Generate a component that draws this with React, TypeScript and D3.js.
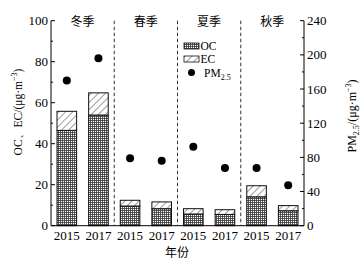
import React from "react";
import * as d3 from "d3";

const seasons = ["冬季", "春季", "夏季", "秋季"];
const years = ["2015", "2017"];
const ocValues = [46.5, 54, 9.6, 8.3, 5.7, 5.5, 14.1, 7.3];
const ecValues = [9.3, 10.8, 2.8, 3.3, 2.6, 2.3, 5.4, 2.5];
const pmValues = [170, 196, 79, 76, 92.5, 67.5, 67.5, 47.5];
const leftTicks = [0, 20, 40, 60, 80, 100];
const rightTicks = [0, 40, 80, 120, 160, 200, 240];

const W = 361, H = 267;
const M = { left: 51, right: 304, top: 20.7, bottom: 225.7 };
const SERIF = "'Liberation Serif', 'Times New Roman', serif";
const CJK = "'Noto Sans CJK SC', sans-serif";

export default function App() {
  const slots = d3.range(ocValues.length).map(String);
  const x = d3.scaleBand<string>().domain(slots).range([M.left, M.right]).paddingInner(0.38).paddingOuter(0.19);
  const xg = d3.scaleBand<string>().domain(seasons).range([M.left, M.right]);
  const yL = d3.scaleLinear().domain([0, 100]).range([M.bottom, M.top]);
  const yR = d3.scaleLinear().domain([0, 240]).range([M.bottom, M.top]);
  const minorL = d3.range(10, 100, 20);
  const minorR = d3.range(20, 240, 40);

  return (
    <svg width={W} height={H} style={{ position: "absolute", left: 0, top: 0, background: "#fff" }}>
      <defs>
        <pattern id="ocp" patternUnits="userSpaceOnUse" width="2" height="2">
          <rect width="2" height="2" fill="#fff" />
          <path d="M0,0.5H2M0.5,0V2" stroke="#333" strokeWidth="0.8" />
        </pattern>
        <pattern id="ecp" patternUnits="userSpaceOnUse" width="5" height="5" patternTransform="rotate(45)">
          <rect width="5" height="5" fill="#fff" />
          <line x1="0" y1="0" x2="0" y2="5" stroke="#222" strokeWidth="0.9" />
        </pattern>
      </defs>

      {/* separators */}
      {seasons.slice(1).map((s) => (
        <line key={s} x1={xg(s)!} x2={xg(s)!} y1={M.top} y2={M.bottom} stroke="#333" strokeWidth={1} strokeDasharray="3.5,2.5" />
      ))}

      {/* bars */}
      {slots.map((k, i) => {
        const x0 = x(k)!;
        const bw = x.bandwidth();
        const oc = ocValues[i], ec = ecValues[i];
        return (
          <g key={k}>
            <rect x={x0} y={yL(oc)} width={bw} height={yL(0) - yL(oc)} fill="url(#ocp)" stroke="#111" strokeWidth={1} />
            <rect x={x0} y={yL(oc + ec)} width={bw} height={yL(oc) - yL(oc + ec)} fill="url(#ecp)" stroke="#111" strokeWidth={1} />
          </g>
        );
      })}

      {/* PM dots */}
      {slots.map((k, i) => (
        <circle key={k} cx={x(k)! + x.bandwidth() / 2} cy={yR(pmValues[i])} r={4} fill="#000" />
      ))}

      {/* axes */}
      <line x1={M.left} x2={M.left} y1={M.top} y2={M.bottom} stroke="#000" />
      <line x1={M.right} x2={M.right} y1={M.top} y2={M.bottom} stroke="#000" />
      <line x1={M.left} x2={M.right} y1={M.bottom} y2={M.bottom} stroke="#000" />

      {leftTicks.map((t) => (
        <g key={t}>
          <line x1={M.left} x2={M.left + 4} y1={yL(t)} y2={yL(t)} stroke="#000" />
          <text x={M.left - 3} y={yL(t)} dy="0.35em" textAnchor="end" fontFamily={SERIF} fontSize={13}>{t}</text>
        </g>
      ))}
      {minorL.map((t) => (
        <line key={t} x1={M.left} x2={M.left + 2} y1={yL(t)} y2={yL(t)} stroke="#000" />
      ))}
      {rightTicks.map((t) => (
        <g key={t}>
          <line x1={M.right - 4} x2={M.right} y1={yR(t)} y2={yR(t)} stroke="#000" />
          <text x={M.right + 3} y={yR(t)} dy="0.35em" textAnchor="start" fontFamily={SERIF} fontSize={13}>{t}</text>
        </g>
      ))}
      {minorR.map((t) => (
        <line key={t} x1={M.right - 2} x2={M.right} y1={yR(t)} y2={yR(t)} stroke="#000" />
      ))}

      {/* year labels */}
      {slots.map((k, i) => (
        <text key={k} x={x(k)! + x.bandwidth() / 2} y={240} textAnchor="middle" fontFamily={SERIF} fontSize={13}>
          {years[i % 2]}
        </text>
      ))}

      {/* season labels */}
      {seasons.map((s) => (
        <text key={s} x={xg(s)! + xg.bandwidth() / 2} y={26} textAnchor="middle" fontFamily={CJK} fontSize={12}>{s}</text>
      ))}

      <text x={177} y={257} textAnchor="middle" fontFamily={CJK} fontSize={12}>年份</text>

      {/* legend */}
      <rect x={184} y={43} width={15} height={6} fill="url(#ocp)" stroke="#111" strokeWidth={0.8} />
      <text x={200.5} y={49.5} fontFamily={SERIF} fontSize={11.5}>OC</text>
      <rect x={184} y={56} width={15} height={6} fill="url(#ecp)" stroke="#111" strokeWidth={0.8} />
      <text x={200.5} y={62.5} fontFamily={SERIF} fontSize={11.5}>EC</text>
      <circle cx={191.5} cy={72.5} r={3.5} fill="#000" />
      <text x={204} y={77} fontFamily={SERIF} fontSize={11.5}>
        PM<tspan fontSize={8} dy={3}>2.5</tspan>
      </text>

      {/* left axis title */}
      <text transform="translate(22,112) rotate(-90)" textAnchor="middle" fontFamily={SERIF} fontSize={11.5}>
        OC、EC/(μg·m<tspan fontSize={8} dy={-5}>−3</tspan><tspan dy={5}>)</tspan>
      </text>
      {/* right axis title */}
      <text transform="translate(356,116) rotate(-90)" textAnchor="middle" fontFamily={SERIF} fontSize={12}>
        PM<tspan fontSize={8} dy={3}>2.5</tspan><tspan dy={-3}>/(μg·m</tspan><tspan fontSize={8} dy={-5}>−3</tspan><tspan dy={5}>)</tspan>
      </text>
    </svg>
  );
}
